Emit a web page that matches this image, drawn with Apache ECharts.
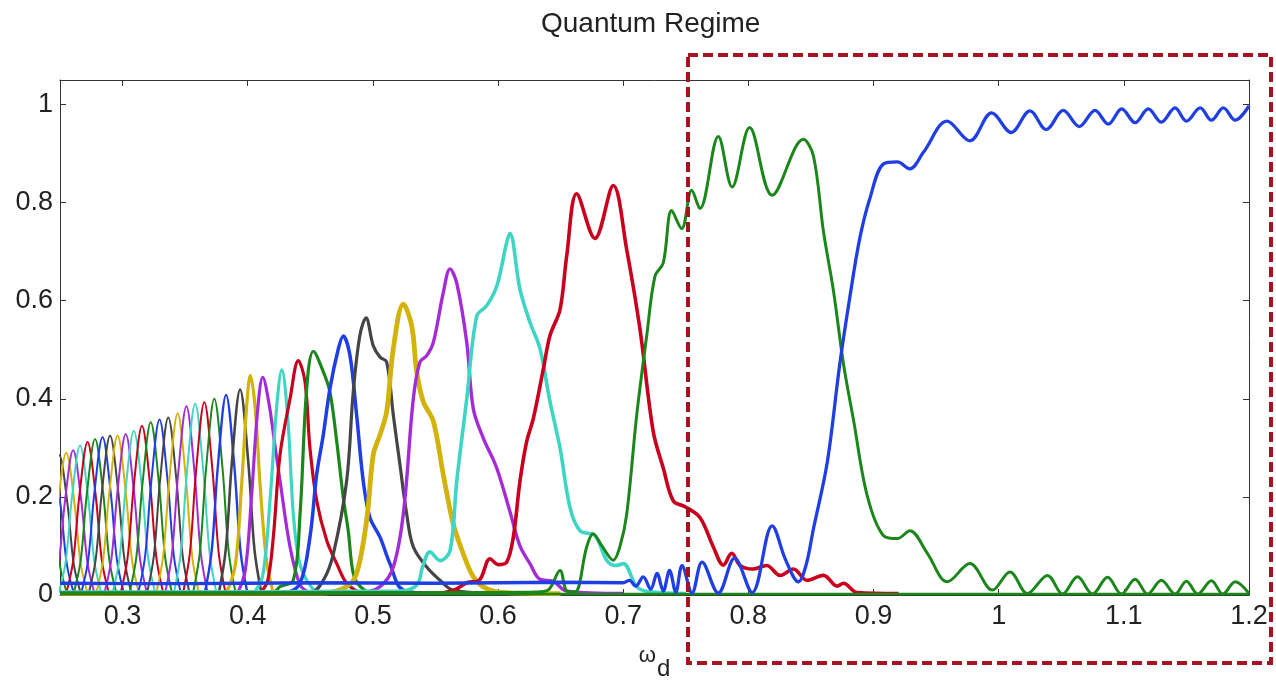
<!DOCTYPE html>
<html><head><meta charset="utf-8">
<script src="https://cdn.jsdelivr.net/npm/echarts@6/dist/echarts.min.js"></script>
<style>html,body{margin:0;padding:0;background:#fff}#c{width:1276px;height:686px}</style>
</head><body><div id="c"></div>
<script>
const titleText = 'Quantum Regime';
const xTicks = [0.3, 0.4, 0.5, 0.6, 0.7, 0.8, 0.9, 1.0, 1.1, 1.2];
const yTicks = [0, 0.2, 0.4, 0.6, 0.8, 1.0];

// thin peaks on the left (omega_d, P)
const green6 = [[0.2215,0.004],[0.227,0.06],[0.232,0.179],[0.2385,0.275],[0.245,0.179],[0.25,0.06],[0.2555,0.004]];
const blue6 = [[0.227,0.004],[0.2325,0.062],[0.2375,0.182],[0.244,0.28],[0.2505,0.182],[0.2555,0.062],[0.261,0.004]];
const gray5 = [[0.2325,0.004],[0.238,0.063],[0.243,0.185],[0.2495,0.285],[0.256,0.185],[0.261,0.063],[0.2665,0.004]];
const yellow5 = [[0.238,0.004],[0.2435,0.064],[0.2485,0.189],[0.255,0.29],[0.2615,0.189],[0.2665,0.064],[0.272,0.004]];
const magenta5 = [[0.2435,0.004],[0.249,0.065],[0.254,0.192],[0.2605,0.295],[0.267,0.192],[0.272,0.065],[0.2775,0.004]];
const cyan5 = [[0.249,0.004],[0.2545,0.067],[0.2595,0.198],[0.266,0.305],[0.2725,0.198],[0.2775,0.067],[0.283,0.004]];
const red5 = [[0.255,0.004],[0.2605,0.069],[0.2655,0.203],[0.272,0.312],[0.2785,0.203],[0.2835,0.069],[0.289,0.004]];
const green5 = [[0.261,0.004],[0.2665,0.07],[0.2715,0.207],[0.278,0.318],[0.2845,0.207],[0.2895,0.07],[0.295,0.004]];
const blue5 = [[0.267,0.004],[0.2725,0.071],[0.2775,0.209],[0.284,0.322],[0.2905,0.209],[0.2955,0.071],[0.301,0.004]];
const gray4 = [[0.273,0.004],[0.2785,0.072],[0.2835,0.211],[0.29,0.325],[0.2965,0.211],[0.3015,0.072],[0.307,0.004]];
const yellow4 = [[0.279,0.004],[0.2845,0.072],[0.2895,0.211],[0.296,0.325],[0.3025,0.211],[0.3075,0.072],[0.313,0.004]];
const magenta4 = [[0.2855,0.004],[0.291,0.072],[0.296,0.213],[0.3025,0.328],[0.309,0.213],[0.314,0.072],[0.3195,0.004]];
const cyan4 = [[0.292,0.004],[0.2975,0.074],[0.3025,0.218],[0.309,0.335],[0.3155,0.218],[0.3205,0.074],[0.326,0.004]];
const red4 = [[0.2985,0.004],[0.304,0.076],[0.309,0.224],[0.3155,0.345],[0.322,0.224],[0.327,0.076],[0.3325,0.004]];
const green4 = [[0.3055,0.004],[0.311,0.077],[0.316,0.229],[0.3225,0.352],[0.329,0.229],[0.334,0.077],[0.3395,0.004]];
const blue4 = [[0.3125,0.004],[0.318,0.079],[0.323,0.233],[0.3295,0.358],[0.336,0.233],[0.341,0.079],[0.3465,0.004]];
const gray3 = [[0.3195,0.004],[0.325,0.08],[0.33,0.235],[0.3365,0.362],[0.343,0.235],[0.348,0.08],[0.3535,0.004]];
const yellow3 = [[0.327,0.004],[0.3325,0.081],[0.3375,0.24],[0.344,0.37],[0.3505,0.24],[0.3555,0.081],[0.361,0.004]];
const magenta3 = [[0.334,0.004],[0.3395,0.085],[0.3445,0.25],[0.351,0.385],[0.3575,0.25],[0.3625,0.085],[0.368,0.004]];
const cyan3 = [[0.341,0.004],[0.3465,0.086],[0.3515,0.253],[0.358,0.39],[0.3645,0.253],[0.3695,0.086],[0.375,0.004]];
const red3 = [[0.3483,0.004],[0.3538,0.086],[0.3588,0.255],[0.3653,0.393],[0.3718,0.255],[0.3768,0.086],[0.3823,0.004]];
const green3 = [[0.3563,0.004],[0.3618,0.088],[0.3668,0.26],[0.3733,0.4],[0.3798,0.26],[0.3848,0.088],[0.3903,0.004]];
const blue3 = [[0.3657,0.004],[0.3712,0.09],[0.3762,0.265],[0.3827,0.408],[0.3892,0.265],[0.3942,0.09],[0.3997,0.004]];
const gray2 = [[0.3769,0.004],[0.3824,0.092],[0.3874,0.272],[0.3939,0.419],[0.4004,0.272],[0.4054,0.092],[0.4109,0.004]];
const yellow2 = [[0.383,0.004],[0.39,0.06],[0.395,0.22],[0.399,0.38],[0.4021,0.448],[0.406,0.38],[0.41,0.22],[0.415,0.07],[0.42,0.008]];
const magenta2 = [[0.392,0.004],[0.398,0.05],[0.403,0.2],[0.408,0.38],[0.412,0.444],[0.417,0.39],[0.422,0.3],[0.4258,0.233],[0.4338,0.098],[0.442,0.02],[0.45,0.004]];
const cyan2 = [[0.405,0.004],[0.412,0.04],[0.418,0.2],[0.423,0.38],[0.4272,0.459],[0.432,0.36],[0.4364,0.165],[0.441,0.07],[0.4471,0.03],[0.455,0.004]];
const red2 = [[0.41,0.004],[0.416,0.03],[0.4205,0.12],[0.4258,0.286],[0.4338,0.4],[0.4404,0.478],[0.4458,0.434],[0.4497,0.3],[0.4551,0.192],[0.4631,0.111],[0.4711,0.064],[0.479,0.024],[0.49,0.004]];
const green2 = [[0.25,0.003],[0.42,0.005],[0.4258,0.017],[0.4364,0.03],[0.4418,0.165],[0.4471,0.421],[0.4524,0.497],[0.4604,0.455],[0.4657,0.414],[0.4711,0.313],[0.4763,0.199],[0.4803,0.131],[0.4843,0.044],[0.49,0.017],[0.5,0.004],[0.6,0.003]];
const blue2 = [[0.25,0.003],[0.43,0.005],[0.4418,0.024],[0.4497,0.118],[0.4551,0.246],[0.4604,0.327],[0.4657,0.421],[0.4724,0.502],[0.4763,0.528],[0.4817,0.488],[0.487,0.367],[0.4923,0.232],[0.4976,0.158],[0.5057,0.118],[0.5136,0.064],[0.5243,0.01],[0.55,0.003]];
const grayMain = [[0.25,0.003],[0.45,0.005],[0.4604,0.03],[0.4684,0.084],[0.479,0.232],[0.4843,0.414],[0.4896,0.529],[0.4945,0.565],[0.5003,0.508],[0.5057,0.485],[0.511,0.475],[0.5163,0.367],[0.5216,0.266],[0.527,0.165],[0.5323,0.098],[0.543,0.057],[0.5536,0.03],[0.5642,0.01],[0.6,0.003]];
const yellowMain = [[0.25,0.003],[0.46,0.004],[0.479,0.017],[0.487,0.044],[0.495,0.152],[0.5003,0.286],[0.5057,0.327],[0.511,0.374],[0.5163,0.502],[0.5243,0.593],[0.531,0.549],[0.535,0.455],[0.5403,0.394],[0.5483,0.354],[0.5562,0.246],[0.5642,0.145],[0.5722,0.084],[0.5802,0.037],[0.588,0.017],[0.6,0.006],[0.65,0.003]];
const magentaMain = [[0.25,0.004],[0.49,0.005],[0.5057,0.017],[0.5163,0.057],[0.5243,0.165],[0.5323,0.4],[0.5376,0.475],[0.543,0.488],[0.5483,0.515],[0.5562,0.616],[0.5616,0.665],[0.567,0.636],[0.575,0.515],[0.5802,0.38],[0.5882,0.32],[0.5989,0.259],[0.6095,0.17],[0.6175,0.1],[0.6255,0.064],[0.6335,0.032],[0.644,0.028],[0.655,0.008],[0.7,0.003]];
const cyanMain = [[0.25,0.006],[0.52,0.008],[0.535,0.02],[0.54,0.06],[0.5456,0.088],[0.5536,0.07],[0.5616,0.09],[0.567,0.232],[0.575,0.4],[0.583,0.569],[0.591,0.59],[0.599,0.63],[0.607,0.72],[0.6095,0.737],[0.6175,0.623],[0.6255,0.556],[0.6335,0.502],[0.6415,0.394],[0.6495,0.3],[0.6575,0.178],[0.6655,0.131],[0.6774,0.121],[0.6868,0.071],[0.694,0.06],[0.7,0.064],[0.7108,0.017],[0.72,0.007],[0.75,0.003]];
const redMain = [[0.25,0.003],[0.55,0.004],[0.565,0.01],[0.575,0.025],[0.585,0.03],[0.5936,0.074],[0.6,0.062],[0.6069,0.067],[0.6122,0.118],[0.6175,0.232],[0.6229,0.313],[0.6282,0.36],[0.6362,0.461],[0.6415,0.529],[0.6495,0.582],[0.6548,0.69],[0.6628,0.818],[0.6774,0.727],[0.6921,0.835],[0.7028,0.704],[0.7134,0.542],[0.724,0.333],[0.732,0.259],[0.74,0.192],[0.7494,0.18],[0.7613,0.158],[0.772,0.098],[0.78,0.061],[0.7867,0.085],[0.7935,0.06],[0.8035,0.053],[0.8146,0.06],[0.8253,0.04],[0.836,0.053],[0.8467,0.03],[0.86,0.04],[0.871,0.018],[0.8759,0.024],[0.887,0.005],[0.92,0.003]];
const greenMain = [[0.25,0.004],[0.6,0.005],[0.63,0.006],[0.64,0.01],[0.6495,0.05],[0.655,0.008],[0.6615,0.006],[0.6708,0.098],[0.676,0.125],[0.683,0.1],[0.692,0.071],[0.6975,0.1],[0.7028,0.165],[0.7108,0.367],[0.7188,0.529],[0.7254,0.65],[0.732,0.677],[0.7387,0.784],[0.7467,0.747],[0.7547,0.825],[0.7613,0.788],[0.776,0.935],[0.787,0.832],[0.801,0.953],[0.819,0.815],[0.844,0.929],[0.852,0.895],[0.86,0.741],[0.868,0.62],[0.876,0.471],[0.884,0.357],[0.895,0.202],[0.908,0.121],[0.919,0.115],[0.929,0.131],[0.943,0.085],[0.959,0.027],[0.977,0.064],[0.995,0.01],[1.009,0.047],[1.023,0.003],[1.039,0.04],[1.051,0.002],[1.063,0.037],[1.075,0.002],[1.087,0.036],[1.098,0.002],[1.109,0.032],[1.119,0.002],[1.13,0.03],[1.141,0.002],[1.15,0.028],[1.159,0.002],[1.17,0.029],[1.179,0.002],[1.189,0.027],[1.2,0.003]];
const greenFloor = [[0.25,0.002],[0.6,0.002],[0.9,0.002],[1.2,0.002]];
const blueMain = [[0.25,0.024],[0.35,0.023],[0.45,0.025],[0.55,0.024],[0.65,0.026],[0.7,0.025],[0.705,0.03],[0.71,0.018],[0.716,0.037],[0.722,0.012],[0.727,0.044],[0.732,0.008],[0.737,0.05],[0.742,0.006],[0.747,0.06],[0.755,0.004],[0.763,0.067],[0.776,0.004],[0.789,0.075],[0.803,0.005],[0.819,0.141],[0.83,0.07],[0.84,0.027],[0.846,0.06],[0.852,0.135],[0.863,0.27],[0.873,0.47],[0.881,0.606],[0.889,0.727],[0.897,0.808],[0.908,0.879],[0.919,0.883],[0.929,0.869],[0.94,0.903],[0.9587,0.966],[0.977,0.926],[0.9944,0.983],[1.01,0.943],[1.025,0.987],[1.038,0.949],[1.0516,0.988],[1.0644,0.955],[1.077,0.988],[1.0876,0.96],[1.0983,0.991],[1.109,0.963],[1.1195,0.991],[1.13,0.964],[1.1409,0.993],[1.15,0.966],[1.161,0.993],[1.17,0.968],[1.1795,0.993],[1.189,0.968],[1.2,0.997]];

const palette = {b:'#1f3fe3', g:'#1b871b', r:'#c8001e', c:'#3fd5c3', m:'#a52bd6', y:'#d4b20c', k:'#454545'};
const curves = [
  [green6,'g',2],[blue6,'b',2],[gray5,'k',2],[yellow5,'y',2],[magenta5,'m',2],[cyan5,'c',2],[red5,'r',2],[green5,'g',2],
  [blue5,'b',2],[gray4,'k',2],[yellow4,'y',2],[magenta4,'m',2],[cyan4,'c',2],[red4,'r',2],[green4,'g',2],
  [blue4,'b',2],[gray3,'k',2],[yellow3,'y',2],[magenta3,'m',2],[cyan3,'c',2],[red3,'r',2],[green3,'g',2],
  [blue3,'b',2.4],[gray2,'k',2.6],[yellow2,'y',3.2],[magenta2,'m',3.2],[cyan2,'c',3.2],[red2,'r',3.2],[green2,'g',3.2],
  [blue2,'b',3.5],[grayMain,'k',3.2],[yellowMain,'y',4.8],[magentaMain,'m',3.4],[cyanMain,'c',3.6],[redMain,'r',3.6],
  [greenFloor,'g',2.5],[greenMain,'g',3],[blueMain,'b',3.3]
];

const FONT = "'Liberation Sans', Arial, Helvetica, sans-serif";
const fmt = v => String(+(+v).toFixed(2));
const axisCommon = {
  axisLine: {show: true, onZero: false, lineStyle: {color: '#333', width: 1}},
  splitLine: {show: false}
};
const chart = echarts.init(document.getElementById('c'), null, {renderer: 'canvas'});
chart.setOption({
  animation: false,
  backgroundColor: '#fff',
  title: {text: titleText, left: 541, top: 10, padding: 0,
    textStyle: {fontFamily: FONT, fontSize: 28, fontWeight: 'normal', color: '#222'}},
  grid: {left: 60, right: 27, top: 80, bottom: 86},
  xAxis: [
    Object.assign({type: 'value', min: 0.25, max: 1.2, position: 'bottom',
      axisTick: {show: true, inside: true, length: 6, customValues: xTicks, lineStyle: {color: '#333'}},
      axisLabel: {show: true, customValues: xTicks, formatter: fmt, fontFamily: FONT, fontSize: 27, color: '#222', margin: 8},
      name: '{w|ω}{d|d}', nameLocation: 'middle', nameGap: 48,
      nameTextStyle: {fontFamily: FONT, color: '#222', rich: {
        w: {fontFamily: FONT, fontSize: 22, color: '#222', padding: [0, 1, 12, 0]},
        d: {fontFamily: FONT, fontSize: 24, color: '#222', padding: [14, 0, 0, 0]}
      }}
    }, axisCommon),
    Object.assign({type: 'value', min: 0.25, max: 1.2, position: 'top',
      axisTick: {show: true, inside: true, length: 6, customValues: xTicks, lineStyle: {color: '#333'}},
      axisLabel: {show: false}
    }, axisCommon)
  ],
  yAxis: [
    Object.assign({type: 'value', min: 0, max: 1.05, position: 'left',
      axisTick: {show: true, inside: true, length: 6, customValues: yTicks, lineStyle: {color: '#333'}},
      axisLabel: {show: true, customValues: yTicks, formatter: fmt, fontFamily: FONT, fontSize: 27, color: '#222', margin: 7}
    }, axisCommon),
    Object.assign({type: 'value', min: 0, max: 1.05, position: 'right',
      axisTick: {show: true, inside: true, length: 6, customValues: yTicks, lineStyle: {color: '#333'}},
      axisLabel: {show: false}
    }, axisCommon)
  ],
  series: curves.map((c, i) => ({
    type: 'line', data: c[0], xAxisIndex: 0, yAxisIndex: 0,
    showSymbol: false, symbol: 'none', smooth: 0.35, clip: true,
    lineStyle: {color: palette[c[1]], width: c[2]}, z: 2 + i * 0.01, silent: true
  })),
  graphic: [{
    type: 'rect', z: 100, silent: true,
    shape: {x: 688, y: 55, width: 583, height: 608},
    style: {fill: 'none', stroke: '#a6121f', lineWidth: 4, lineDash: [10, 5]}
  }]
});
</script></body></html>
